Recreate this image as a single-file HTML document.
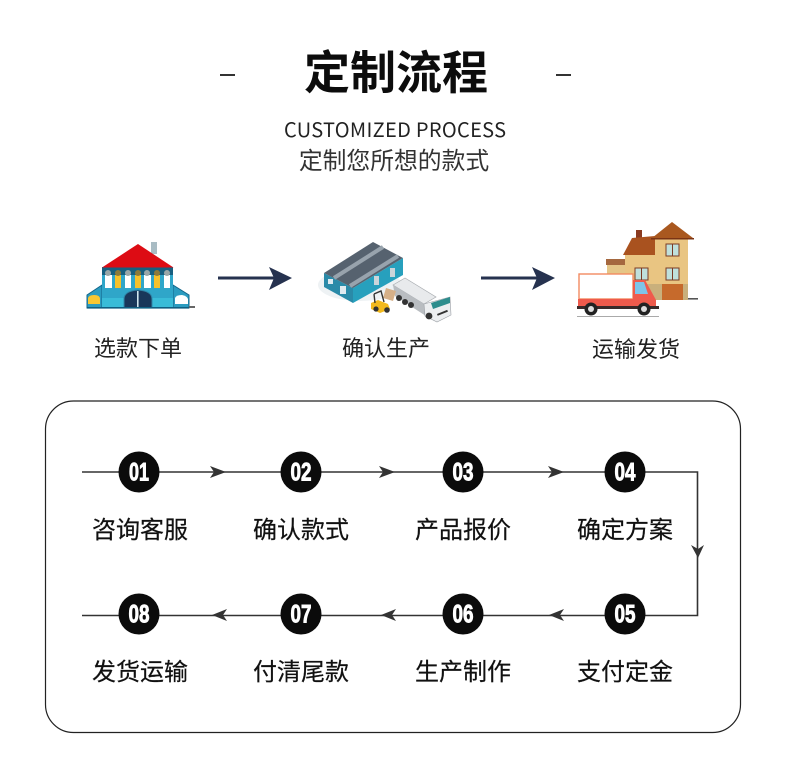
<!DOCTYPE html>
<html lang="zh"><head><meta charset="utf-8"><title>定制流程</title>
<style>
html,body{margin:0;padding:0;background:#fff;width:790px;height:774px;overflow:hidden}
svg{display:block}
text{font-family:"Liberation Sans","Noto Sans CJK SC",sans-serif}
.l{font-size:24px;fill:#111;text-anchor:middle;stroke:#111;stroke-width:.2}
.u{font-size:22px;fill:#222;text-anchor:middle}
.n{font-family:"Liberation Sans Narrow","Liberation Sans",sans-serif;font-weight:700;font-size:25px;fill:#fff;text-anchor:middle;stroke:#fff;stroke-width:.9}
</style></head><body>
<svg width="790" height="774" viewBox="0 0 790 774" xmlns="http://www.w3.org/2000/svg">
<rect width="790" height="774" fill="#fff"/>
<!-- header -->
<rect x="220" y="74" width="15" height="2" fill="#333"/>
<rect x="556" y="74" width="15" height="2" fill="#333"/>
<text x="396" y="89" text-anchor="middle" style="font-family:'Noto Sans CJK SC',sans-serif;font-weight:700;font-size:46px;fill:#0c0c0c">定制流程</text>
<text x="395" y="137" text-anchor="middle" textLength="222" style="font-family:'Noto Sans CJK SC',sans-serif;font-weight:400;font-size:20px;fill:#222">CUSTOMIZED PROCESS</text>
<text x="394" y="169" text-anchor="middle" style="font-family:'Noto Sans CJK SC',sans-serif;font-weight:400;font-size:23.8px;fill:#333">定制您所想的款式</text>

<!-- building 1 -->
<g>
<rect x="151" y="242" width="6" height="12" fill="#a9bcc4"/>
<polygon points="87,308 87,295 102,285 102,308" fill="#2b9cc0" stroke="#11658a"/>
<polygon points="173,285 189,295 189,308 173,308" fill="#2b9cc0" stroke="#11658a"/>
<rect x="102" y="267" width="71" height="41" fill="#2fa6c9"/>
<rect x="102" y="267" width="71" height="8" fill="#175f80"/>
<rect x="102" y="298" width="71" height="10" fill="#39bcd8"/>
<polygon points="138,244 102,267.5 173.5,267.5" fill="#dd0c14"/>
<g fill="#fff"><rect x="105" y="275" width="7" height="13"/><rect x="125" y="275" width="6" height="13"/><rect x="144" y="275" width="7" height="13"/><rect x="164" y="275" width="6" height="13"/></g>
<g fill="#f7c12a"><rect x="115" y="275" width="6" height="13"/><rect x="135" y="275" width="6" height="13"/><rect x="154" y="275" width="6" height="13"/></g>
<g fill="#9aa7a8"><circle cx="108" cy="273" r="3"/><circle cx="128" cy="273" r="3"/><circle cx="147" cy="273" r="3"/><circle cx="167" cy="273" r="3"/></g>
<g fill="#8c7a3a"><circle cx="118" cy="273" r="3"/><circle cx="138" cy="273" r="3"/><circle cx="157" cy="273" r="3"/></g>
<path d="M124 308V299Q124 291 138 290Q152 291 152 299V308Z" fill="#19375a" stroke="#2f86a8"/>
<rect x="137" y="291" width="1.6" height="17" fill="#cfe6ee"/>
<path d="M88 304V298Q89 295 94 295Q100 295 100 299V304Z" fill="#f8c733"/>
<path d="M175 304V298Q176 295 182 295Q187 296 188 299V304Z" fill="#fff"/>
<rect x="87" y="307" width="102" height="1.6" fill="#0f5f82"/>
<rect x="189" y="306" width="6" height="2" fill="#666"/>
</g>

<!-- arrows top -->
<g fill="#26324f">
<rect x="218" y="276.5" width="62" height="3"/>
<polygon points="269,267 292,278 269,290 274,278"/>
<rect x="481" y="276.5" width="62" height="3"/>
<polygon points="532,267 555,278 532,290 537,278"/>
</g>

<!-- factory -->
<g>
<ellipse cx="360" cy="285" rx="42" ry="16" fill="#eef2f4"/>
<polygon points="324,273 353,288 353,303 324,287" fill="#2a8aa8"/>
<polygon points="353,288 403,258 403,275 353,303" fill="#27a0bd"/>
<polygon points="324,273 373,242 403,258 353,288" fill="#56626f"/>
<g stroke="#98a3ad" stroke-width="4" fill="none"><path d="M334 278 383 247"/><path d="M350 286 398 256"/></g>
<rect x="328" y="279" width="5" height="5" fill="#dfeaf0"/><rect x="340" y="286" width="6" height="8" fill="#dfeaf0"/>
<rect x="374" y="276" width="5" height="9" fill="#cbd5da"/><rect x="390" y="268" width="5" height="9" fill="#cbd5da"/>
<!-- truck -->
<polygon points="393,285 405,278 436,297 424,304" fill="#e8eaec" stroke="#a8acb0" stroke-width=".7"/>
<polygon points="393,285 424,304 426,316 395,296" fill="#b9bdc1"/>
<polygon points="424,304 450,297 451,315 437,322 425,316" fill="#eceef0" stroke="#9a9ea4" stroke-width=".6"/>
<polygon points="431,303 450,297 450,303 433,309" fill="#2d8d8d"/>
<rect x="437" y="312" width="11" height="2" fill="#333" transform="rotate(-22 442 313)"/>
<g fill="#333"><circle cx="399" cy="298" r="3"/><circle cx="405" cy="302" r="3"/><circle cx="411" cy="305" r="3"/><circle cx="429" cy="316" r="3.400"/></g>
<!-- forklift -->
<polygon points="386,288 396,291 393,301 383,298" fill="#d6b088"/>
<polygon points="371,303 378,300 388,304 390,309 380,313 371,309" fill="#f2b91e"/>
<path d="M374 294 381 291 384 302M374 294 375 303" fill="none" stroke="#333" stroke-width="1.400"/>
<circle cx="376" cy="309" r="2.600" fill="#333"/><circle cx="387" cy="310" r="2.800" fill="#333"/>
</g>

<!-- house + van -->
<g>
<rect x="636" y="230" width="6" height="10" fill="#8a3a20"/>
<rect x="625" y="255" width="63" height="45" fill="#e9c582"/>
<rect x="652" y="238" width="36" height="20" fill="#e9c582"/>
<rect x="625" y="284" width="63" height="16" fill="#c9b07c"/>
<polygon points="623,255 632,238 655,236 655,255" fill="#a9521f"/>
<polygon points="672,222 652,238 693,238" fill="#a9581f"/>
<rect x="651" y="238" width="43" height="1.500" fill="#7a3414"/>
<rect x="606" y="259" width="19" height="6" fill="#a5683f"/><rect x="607" y="265" width="18" height="10" fill="#e5c688"/>
<g fill="#bfe0dc" stroke="#7a3a24" stroke-width="1"><rect x="666" y="244" width="13" height="12"/><rect x="666" y="268" width="13" height="12"/><rect x="635" y="268" width="13" height="12"/></g>
<g stroke="#7a3a24"><path d="M672.500 244v12M672.500 268v12M641.500 268v12"/></g>
<rect x="662" y="284" width="21" height="16" fill="#c66a2c"/>
<rect x="688" y="298" width="10" height="1.600" fill="#555"/>
<rect x="579" y="274" width="54" height="25" fill="#fff" stroke="#f28a60" stroke-width="1.400"/>
<path d="M578 299H633V280H645L656 300V308H578Z" fill="#ef5a4c"/>
<polygon points="635,282 644,282 648,294 635,294" fill="#7ec4e8"/>
<rect x="577" y="306" width="82" height="3" fill="#3a2a2a"/>
<circle cx="591" cy="309" r="6.500" fill="#222"/><circle cx="591" cy="309" r="3" fill="#ddd"/>
<circle cx="644" cy="309" r="6.500" fill="#222"/><circle cx="644" cy="309" r="3" fill="#ddd"/>
<rect x="577" y="316" width="82" height="1" fill="#aaa"/>
</g>

<text class="u" x="138" y="356">选款下单</text>
<text class="u" x="386" y="356">确认生产</text>
<text class="u" x="636" y="357">运输发货</text>

<!-- panel -->
<rect x="45.500" y="401" width="695" height="331.500" rx="28" ry="28" fill="none" stroke="#222" stroke-width="1.200"/>
<path d="M82 472H697.500V615.500H82" fill="none" stroke="#333" stroke-width="1.600"/>
<g fill="#333">
<polygon points="210,466 226,472 210,478 214,472"/>
<polygon points="379,466 395,472 379,478 383,472"/>
<polygon points="548,466 564,472 548,478 552,472"/>
<polygon points="691,545 698,558 704,545 698,549"/>
<polygon points="564,609 549,615 564,621 560,615"/>
<polygon points="396,609 381,615 396,621 392,615"/>
<polygon points="227,609 212,615 227,621 223,615"/>
</g>
<g fill="#0b0b0b">
<circle cx="139" cy="472" r="20.500"/><circle cx="301" cy="472" r="20.500"/><circle cx="463" cy="472" r="20.500"/><circle cx="625" cy="472" r="20.500"/>
<circle cx="625" cy="614" r="20.500"/><circle cx="463" cy="614" r="20.500"/><circle cx="301" cy="614" r="20.500"/><circle cx="139" cy="614" r="20.500"/>
</g>
<text class="n" x="139" y="480.500" textLength="20" lengthAdjust="spacingAndGlyphs">01</text>
<text class="n" x="301" y="480.500" textLength="21" lengthAdjust="spacingAndGlyphs">02</text>
<text class="n" x="463" y="480.500" textLength="21" lengthAdjust="spacingAndGlyphs">03</text>
<text class="n" x="625" y="480.500" textLength="21" lengthAdjust="spacingAndGlyphs">04</text>
<text class="n" x="625" y="622.500" textLength="21" lengthAdjust="spacingAndGlyphs">05</text>
<text class="n" x="463" y="622.500" textLength="21" lengthAdjust="spacingAndGlyphs">06</text>
<text class="n" x="301" y="622.500" textLength="21" lengthAdjust="spacingAndGlyphs">07</text>
<text class="n" x="139" y="622.500" textLength="21" lengthAdjust="spacingAndGlyphs">08</text>

<text class="l" x="140" y="538">咨询客服</text>
<text class="l" x="301" y="538">确认款式</text>
<text class="l" x="463" y="538">产品报价</text>
<text class="l" x="625" y="538">确定方案</text>
<text class="l" x="140" y="680">发货运输</text>
<text class="l" x="301" y="680">付清尾款</text>
<text class="l" x="463" y="680">生产制作</text>
<text class="l" x="625" y="680">支付定金</text>
</svg>
</body></html>
